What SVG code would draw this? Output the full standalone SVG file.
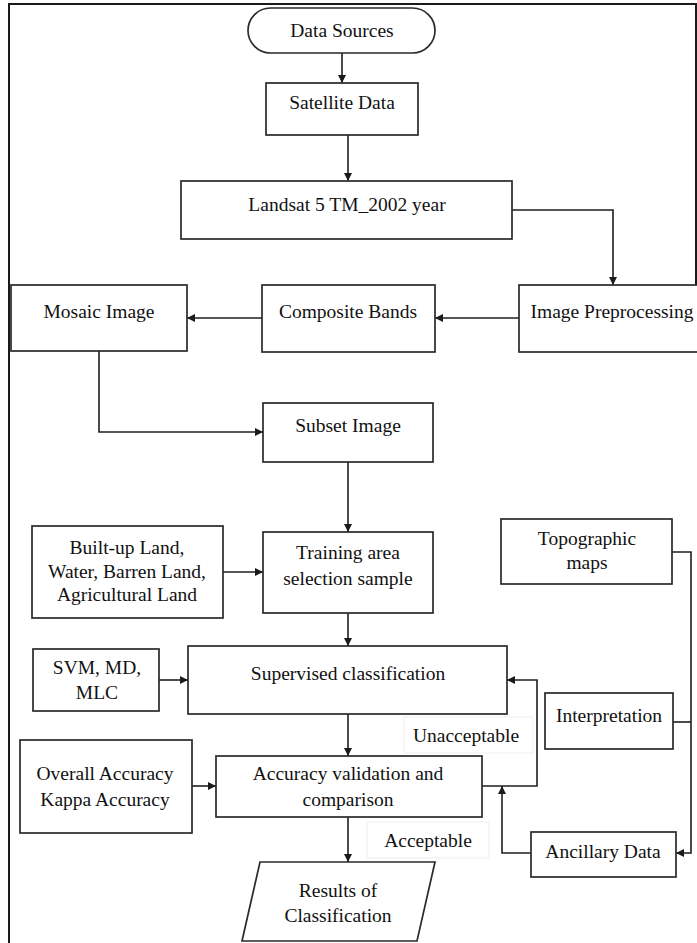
<svg xmlns="http://www.w3.org/2000/svg" width="697" height="943" viewBox="0 0 697 943">
<defs>
<marker id="ah" viewBox="0 0 10 10" refX="10" refY="5" markerWidth="8" markerHeight="8" markerUnits="userSpaceOnUse" orient="auto">
<path d="M0,0 L10,5 L0,10 z" fill="#1a1a1a"/>
</marker>
<style>
.box{fill:#fff;stroke:#2a2a2a;stroke-width:1.7}
.lbl{fill:#fff;stroke:#efefef;stroke-width:1}
.t{font-family:"Liberation Serif","Times New Roman",serif;font-size:19.5px;fill:#111;text-anchor:middle}
.c{fill:none;stroke:#1f1f1f;stroke-width:1.6}
.a{marker-end:url(#ah)}
</style>
</defs>
<rect width="697" height="943" fill="#fff"/>
<path d="M9,943 V4 H696 V285" fill="none" stroke="#1a1a1a" stroke-width="2"/>

<g id="connectors">
<path class="c a" d="M342,53 V83"/>
<path class="c a" d="M348,135 V181"/>
<path class="c a" d="M512,210 H613 V285"/>
<path class="c a" d="M519,318 H435"/>
<path class="c a" d="M262,318 H187"/>
<path class="c a" d="M99,351 V432 H263"/>
<path class="c a" d="M348,462 V532"/>
<path class="c a" d="M223,572 H263"/>
<path class="c a" d="M348,613 V646"/>
<path class="c a" d="M159,680 H188"/>
<path class="c a" d="M348,714 V756"/>
<path class="c a" d="M192,786 H216"/>
<path class="c a" d="M482,786 H537 V680 H507"/>
<path class="c a" d="M531,853 H502 V786"/>
<path class="c a" d="M672,552 H691 V853 H676"/>
<path class="c" d="M673,722 H691"/>
<path class="c a" d="M348,817 V862"/>
</g>

<g id="label-unacceptable">
<rect class="lbl" x="404" y="717" width="129" height="36"/>
<text class="t" x="466" y="742">Unacceptable</text>
</g>
<g id="label-acceptable">
<rect class="lbl" x="367" y="822" width="122" height="36"/>
<text class="t" x="428" y="847">Acceptable</text>
</g>

<g id="data-sources">
<rect class="box" x="248" y="8" width="187" height="45" rx="22.5"/>
<text class="t" x="342" y="37">Data Sources</text>
</g>
<g id="satellite-data">
<rect class="box" x="266" y="83" width="152" height="52"/>
<text class="t" x="342" y="109">Satellite Data</text>
</g>
<g id="landsat">
<rect class="box" x="181" y="181" width="331" height="58"/>
<text class="t" x="347" y="211">Landsat 5 TM_2002 year</text>
</g>
<g id="image-preprocessing">
<rect class="box" x="519" y="285" width="191" height="67"/>
<text class="t" x="612" y="318">Image Preprocessing</text>
</g>
<g id="composite-bands">
<rect class="box" x="262" y="285" width="173" height="67"/>
<text class="t" x="348" y="318">Composite Bands</text>
</g>
<g id="mosaic-image">
<rect class="box" x="11" y="285" width="176" height="66"/>
<text class="t" x="99" y="318">Mosaic Image</text>
</g>
<g id="subset-image">
<rect class="box" x="263" y="403" width="170" height="59"/>
<text class="t" x="348" y="432">Subset Image</text>
</g>
<g id="land-classes">
<rect class="box" x="32" y="526" width="191" height="92"/>
<text class="t" x="127" y="554">Built-up Land,</text>
<text class="t" x="127" y="578">Water, Barren Land,</text>
<text class="t" x="127" y="601">Agricultural Land</text>
</g>
<g id="training-area">
<rect class="box" x="263" y="532" width="170" height="81"/>
<text class="t" x="348" y="559">Training area</text>
<text class="t" x="348" y="585">selection sample</text>
</g>
<g id="topographic-maps">
<rect class="box" x="501" y="519" width="171" height="65"/>
<text class="t" x="587" y="545">Topographic</text>
<text class="t" x="587" y="569">maps</text>
</g>
<g id="svm">
<rect class="box" x="33" y="649" width="126" height="62"/>
<text class="t" x="97" y="674">SVM, MD,</text>
<text class="t" x="97" y="699">MLC</text>
</g>
<g id="supervised-classification">
<rect class="box" x="188" y="646" width="319" height="68"/>
<text class="t" x="348" y="680">Supervised classification</text>
</g>
<g id="interpretation">
<rect class="box" x="545" y="693" width="128" height="56"/>
<text class="t" x="609" y="722">Interpretation</text>
</g>
<g id="accuracy-metrics">
<rect class="box" x="20" y="740" width="172" height="93"/>
<text class="t" x="105" y="780">Overall Accuracy</text>
<text class="t" x="105" y="806">Kappa Accuracy</text>
</g>
<g id="accuracy-validation">
<rect class="box" x="216" y="756" width="266" height="61"/>
<text class="t" x="348" y="780">Accuracy validation and</text>
<text class="t" x="348" y="806">comparison</text>
</g>
<g id="ancillary-data">
<rect class="box" x="531" y="832" width="145" height="45"/>
<text class="t" x="603" y="858">Ancillary Data</text>
</g>
<g id="results">
<path class="box" d="M260,862 H435 L417,941 H242 Z"/>
<text class="t" x="338" y="897">Results of</text>
<text class="t" x="338" y="922">Classification</text>
</g>
</svg>
